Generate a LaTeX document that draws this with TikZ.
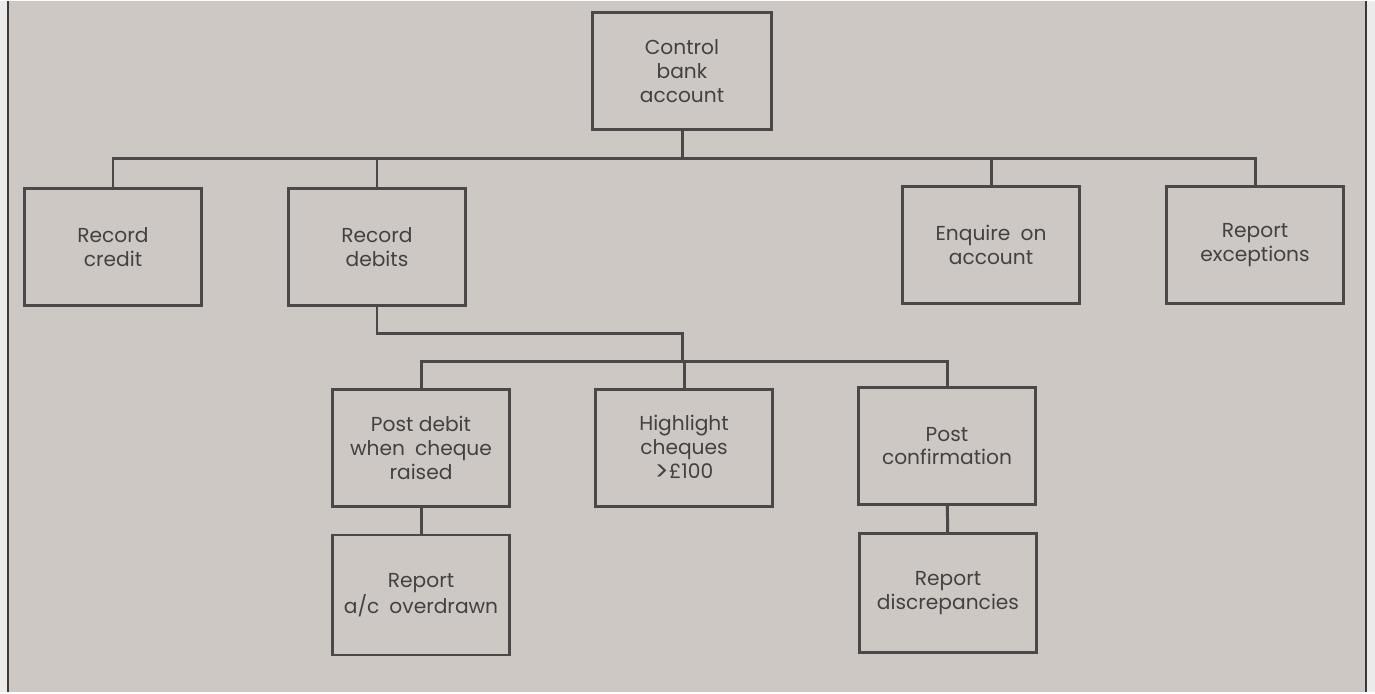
\documentclass[tikz,border=0pt]{standalone}
\usepackage{fontspec}
\setmainfont{Poppins}
\usepackage{tikz}
\usepackage{xcolor}
\definecolor{paper}{HTML}{CDC8C4}
\definecolor{margin}{HTML}{EDEBE9}
\definecolor{ink}{HTML}{4A4848}
\tikzset{
  task/.style={draw=ink, line width=1.6pt, minimum width=3.54cm, minimum height=2.34cm,
    align=center, text=ink!90!black, font=\fontsize{11.5}{13.5}\selectfont, inner sep=0pt},
  link/.style={draw=ink, line width=1.7pt},
  edge/.style={draw=ink!80!black, line width=1.2pt},
}

\begin{document}
\begin{tikzpicture}[x=0.02cm, y=-0.02cm]
  \fill[margin] (0,0) rectangle (1375,691);
  \fill[paper] (8,0) rectangle (1366,691);
  \draw[edge] (8,0) -- (8,691);
  \draw[edge] (1366,0) -- (1366,691);
  \useasboundingbox (0,0) rectangle (1375,691);

  % top level
  \node[task, minimum width=3.58cm] (ctrl) at (682,70) {Control\\bank\\account};
  \node[task] (credit)  at (113,246) {Record\\credit};
  \node[task] (debits)  at (377,246) {Record\\debits};
  \node[task] (enquire) at (991,244) {Enquire\enspace on\\account};
  \node[task] (except)  at (1255,244) {Report\\exceptions};

  % under record debits
  \node[task] (postdeb)  at (421,447) {Post debit\\when\enspace cheque\\raised};
  \node[task] (highl)    at (684,447) {Highlight\\cheques\\\raisebox{-1.6pt}{\fontsize{15}{13.5}\selectfont >}£100};
  \node[task] (postconf) at (947,445) {Post\\confirmation};
  \node[task, minimum height=2.4cm] (overdr) at (421,594) {Report\\a/c\enspace overdrawn};
  \node[task, minimum height=2.38cm] (discr) at (948,592) {Report\\discrepancies};

  \coordinate (top) at (682,157);
  \coordinate (jog) at (682,332);
  \coordinate (mid) at (682,360);

  \draw[link] (ctrl) -- (top);
  \foreach \n in {credit,debits,enquire,except}
    \draw[link] (\n.north) |- (top);
  \draw[link] (debits.south) |- (jog) -- (mid);
  \foreach \n in {postdeb,highl,postconf}
    \draw[link] (\n.north) |- (mid);
  \draw[link] (postdeb) -- (overdr);
  \draw[link] (postconf) -- (discr);
\end{tikzpicture}
\end{document}
